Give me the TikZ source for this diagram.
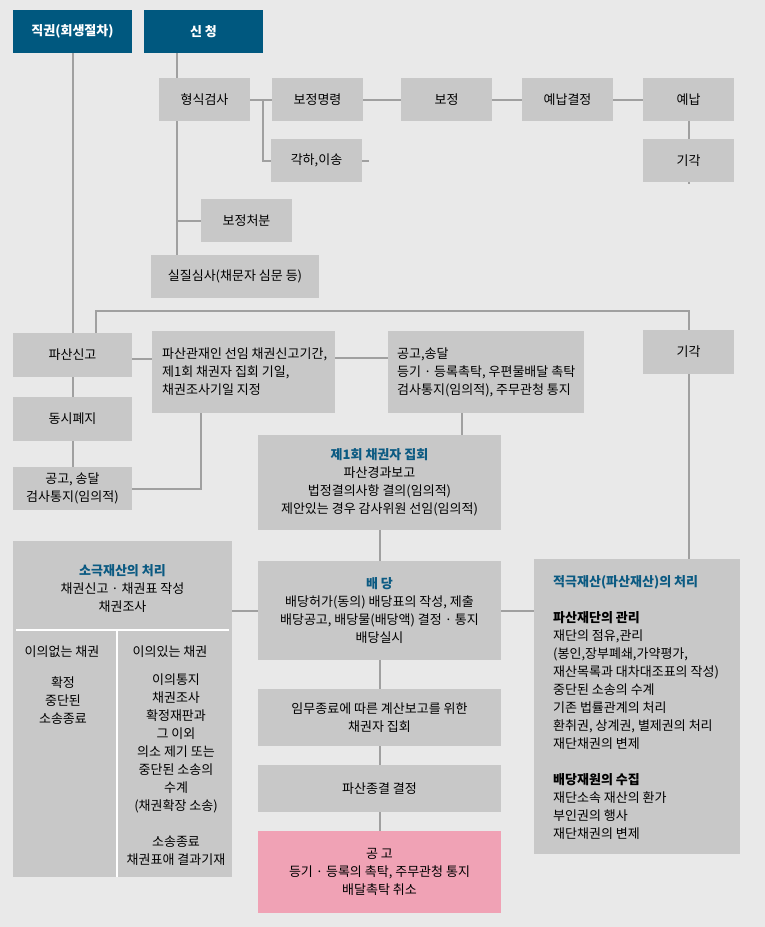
\documentclass[tikz,border=0pt]{standalone}
\usepackage{fontspec}
\setmainfont{Noto Sans CJK KR}
\usepackage{xcolor}
\definecolor{bgc}{HTML}{E9E9E9}
\definecolor{boxc}{HTML}{C8C8C8}
\definecolor{headc}{HTML}{00587F}
\definecolor{pinkc}{HTML}{F0A2B5}
\definecolor{titlec}{HTML}{0B5A82}
\definecolor{linec}{HTML}{A0A0A0}

\begin{document}
\begin{tikzpicture}[x=1pt,y=-1pt,
  box/.style={fill=boxc, inner sep=0pt, align=center, font=\fontsize{13pt}{18pt}\selectfont},
  head/.style={fill=headc, text=white, inner sep=0pt, minimum width=119pt, minimum height=43pt, font=\fontsize{13pt}{18pt}\selectfont\bfseries},
  small/.style={box, minimum width=91pt, minimum height=43pt},
  side/.style={box, minimum width=119pt, minimum height=44pt},
  mid/.style={box, minimum width=243pt},
  txt/.style={inner sep=0pt, align=center, font=\fontsize{13pt}{18pt}\selectfont},
  ltxt/.style={txt, align=left, anchor=west},
  link/.style={draw=linec, line width=2pt},
  split/.style={draw=white, line width=1.2pt}]
\useasboundingbox (0,0) rectangle (765,927);
\fill [bgc] (0,0) rectangle (765,927);

% top row
\node [head] (jik) at (72.5,31.5) {직권(회생절차)};
\node [head] (sin) at (203.5,31.5) {신 청};
\coordinate (trunk) at (177,53);

\node [small] (hyeong) at (204.5,99.5) {형식검사};
\node [small] (bjm) at (317.5,99.5) {보정명령};
\node [small] (bj) at (446.5,99.5) {보정};
\node [small] (ynk) at (567.5,99.5) {예납결정};
\node [small] (yn) at (688.5,99.5) {예납};
\node [small] (gigak1) at (688.5,160.5) {기각};
\node [small] (gakha) at (316.5,160.5) {각하,이송};
\node [small] (bjcb) at (246.5,220.5) {보정처분};
\node [small, minimum width=168pt] (siljil) at (235,276.5) {실질심사(채문자 심문 등)};

\draw [link] (sin.south -| trunk) -- (hyeong.north -| trunk);
\draw [link] (hyeong.south -| trunk) -- (siljil.north -| trunk);
\draw [link] (bjcb.west -| trunk) -- (bjcb.west);
\draw [link] (hyeong.east) -- (bjm.west);
\draw [link] ([xshift=13pt]hyeong.east) |- (gakha.west);
\draw [link] (gakha.east) -- ++(7,0);
\draw [link] (bjm.east) -- (bj.west);
\draw [link] (bj.east) -- (ynk.west);
\draw [link] (ynk.east) -- (yn.west);
\draw [link] (yn.south) -- (gigak1.north);
\draw [link] (gigak1.south) -- ++(0,2);

% bankruptcy declaration
\coordinate (bus) at (0,311);
\node [side] (pasan) at (72.5,355) {파산신고};
\node [side] (dongsi) at (72.5,419) {동시폐지};
\node [side, minimum height=43pt] (gonggo1) at (72.5,488.5) {공고, 송달\\검사통지(임의적)};
\node [box, minimum width=183pt, minimum height=82pt] (gwanjae) at (243.5,372) {};
\node [ltxt] (gwtext) at (162,372) {파산관재인 선임 채권신고기간,\\제1회 채권자 집회 기일,\\채권조사기일 지정};
\node [box, minimum width=196pt, minimum height=82pt] (gongsong) at (486,372) {};
\node [ltxt] (gstext) at (397,372) {공고,송달\\등기 · 등록촉탁, 우편물배달 촉탁\\검사통지(임의적), 주무관청 통지};
\node [small, minimum height=44pt] (gigak2) at (688.5,352) {기각};

\draw [link] (jik.south) -- (pasan.north);
\draw [link] ([xshift=23.5pt]pasan.north) |- (bus -| gigak2) -- (gigak2.north);
\draw [link] ([yshift=-4pt]pasan.east) -- ([yshift=-4pt]pasan.east -| gwanjae.west);
\draw [link] ([yshift=14pt]gwanjae.east) -- ([yshift=14pt]gongsong.west);
\draw [link] (pasan.south) -- (dongsi.north);
\draw [link] (dongsi.south) -- (gonggo1.north);
\draw [link] ([xshift=-42.5pt]gwanjae.south) |- (gonggo1.east);

% creditors meeting and distribution
\node [mid, minimum height=95pt] (first) at (379.5,482.5)
  {{\color{titlec}\bfseries 제1회 채권자 집회}\\파산경과보고\\법정결의사항 결의(임의적)\\제안있는 경우 감사위원 선임(임의적)};
\node [mid, minimum height=99pt] (baedang) at (379.5,610.5)
  {{\color{titlec}\bfseries 배 당}\\배당허가(동의) 배당표의 작성, 제출\\배당공고, 배당물(배당액) 결정 · 통지\\배당실시};
\node [mid, minimum height=57pt] (immu) at (379.5,717.5) {임무종료에 따른 계산보고를 위한\\채권자 집회};
\node [mid, minimum height=47pt] (jonggyeol) at (379.5,788.5) {파산종결 결정};
\node [mid, minimum height=82pt, fill=pinkc] (gonggo2) at (379.5,872)
  {공 고\\등기 · 등록의 촉탁, 주무관청 통지\\배달촉탁 취소};

\draw [link] ([xshift=-24pt]gongsong.south) -- ([xshift=-24pt]gongsong.south |- first.north);
\draw [link] (first.south) -- (baedang.north);
\draw [link] (baedang.south) -- (immu.north);
\draw [link] (immu.south) -- (jonggyeol.north);
\draw [link] (jonggyeol.south) -- (gonggo2.north);

% passive estate
\node [box, minimum width=219pt, minimum height=336pt] (sogeuk) at (122.5,709) {};
\draw [split] (16,630) -- (229,630);
\draw [split] (117,630) -- (117,877);
\node [txt] (sgtop) at (122.5,589) {{\color{titlec}\bfseries 소극재산의 처리}\\채권신고 · 채권표 작성\\채권조사};
\node [txt] (noobj) at (62,652) {이의없는 채권};
\node [txt] (noobjb) at (63,701) {확정\\중단된\\소송종료};
\node [txt] (obj) at (170,652) {이의있는 채권};
\node [txt] (objb) at (176,770) {이의통지\\채권조사\\확정재판과\\그 이외\\의소 제기 또는\\중단된 소송의\\수계\\(채권확장 소송)\\[18pt]소송종료\\채권표애 결과기재};

% active estate
\node [box, minimum width=206pt, minimum height=295pt] (jeokgeuk) at (637,706.5) {};
\node [ltxt] (jktext) at (553,708)
  {{\color{titlec}\bfseries 적극재산(파산재산)의 처리}\\[18pt]{\bfseries 파산재단의 관리}\\재단의 점유,관리\\(봉인,장부폐쇄,가약평가,\\재산목록과 대차대조표의 작성)\\중단된 소송의 수계\\기존 법률관계의 처리\\환취권, 상계권, 별제권의 처리\\재단채권의 변제\\[18pt]{\bfseries 배당재원의 수집}\\재단소속 재산의 환가\\부인권의 행사\\재단채권의 변제};

\draw [link] (baedang.west -| sogeuk.east) -- (baedang.west);
\draw [link] (baedang.east) -- (baedang.east -| jeokgeuk.west);
\draw [link] (gigak2.south) -- (gigak2.south |- jeokgeuk.north);
\end{tikzpicture}
\end{document}
